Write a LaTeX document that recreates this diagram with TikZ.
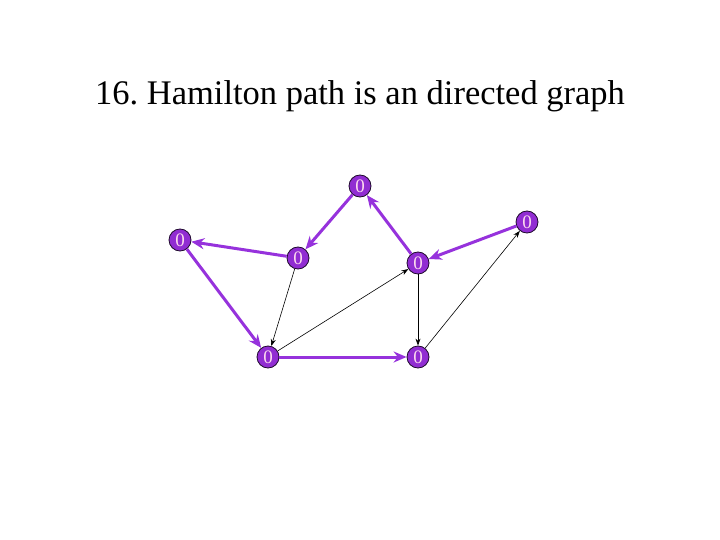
\documentclass[tikz,border=0pt]{standalone}
\usepackage{fontspec}
\setmainfont{Liberation Serif}
\usetikzlibrary{arrows.meta}
\definecolor{vio}{RGB}{150,50,220}
\definecolor{vnode}{RGB}{145,45,210}
\begin{document}
\frenchspacing
\begin{tikzpicture}[x=1pt,y=-1pt,
  vtx/.style={circle,draw=black!80!vio,line width=0.8pt,fill=vnode,text=white!85!magenta,inner sep=0pt,minimum size=22pt,font=\fontsize{19}{19}\selectfont},
  pedge/.style={draw=vio,line width=3pt,-{Stealth[length=13pt,width=11pt]}},
  bedge/.style={draw=black,line width=0.6pt,-{Stealth[length=7pt,width=5pt]}}]
\useasboundingbox (0,0) rectangle (720,540);
\node[font=\fontsize{34.5}{34.5}\selectfont] (title) at (360,96) {16. Hamilton path is an directed graph};
\node[vtx] (a) at (360,186) {0};
\node[vtx] (b) at (180,240) {0};
\node[vtx] (c) at (298,258) {0};
\node[vtx] (d) at (527,222) {0};
\node[vtx] (e) at (418,263) {0};
\node[vtx] (f) at (268,357) {0};
\node[vtx] (g) at (418,357) {0};
\draw[pedge] (a) -- (c);
\draw[pedge] (c) -- (b);
\draw[pedge] (b) -- (f);
\draw[pedge] (f) -- (g);
\draw[pedge] (e) -- (a);
\draw[pedge] (d) -- (e);
\draw[bedge] (c) -- (f);
\draw[bedge] (f) -- (e);
\draw[bedge] (e) -- (g);
\draw[bedge] (g) -- (d);
\end{tikzpicture}
\end{document}
